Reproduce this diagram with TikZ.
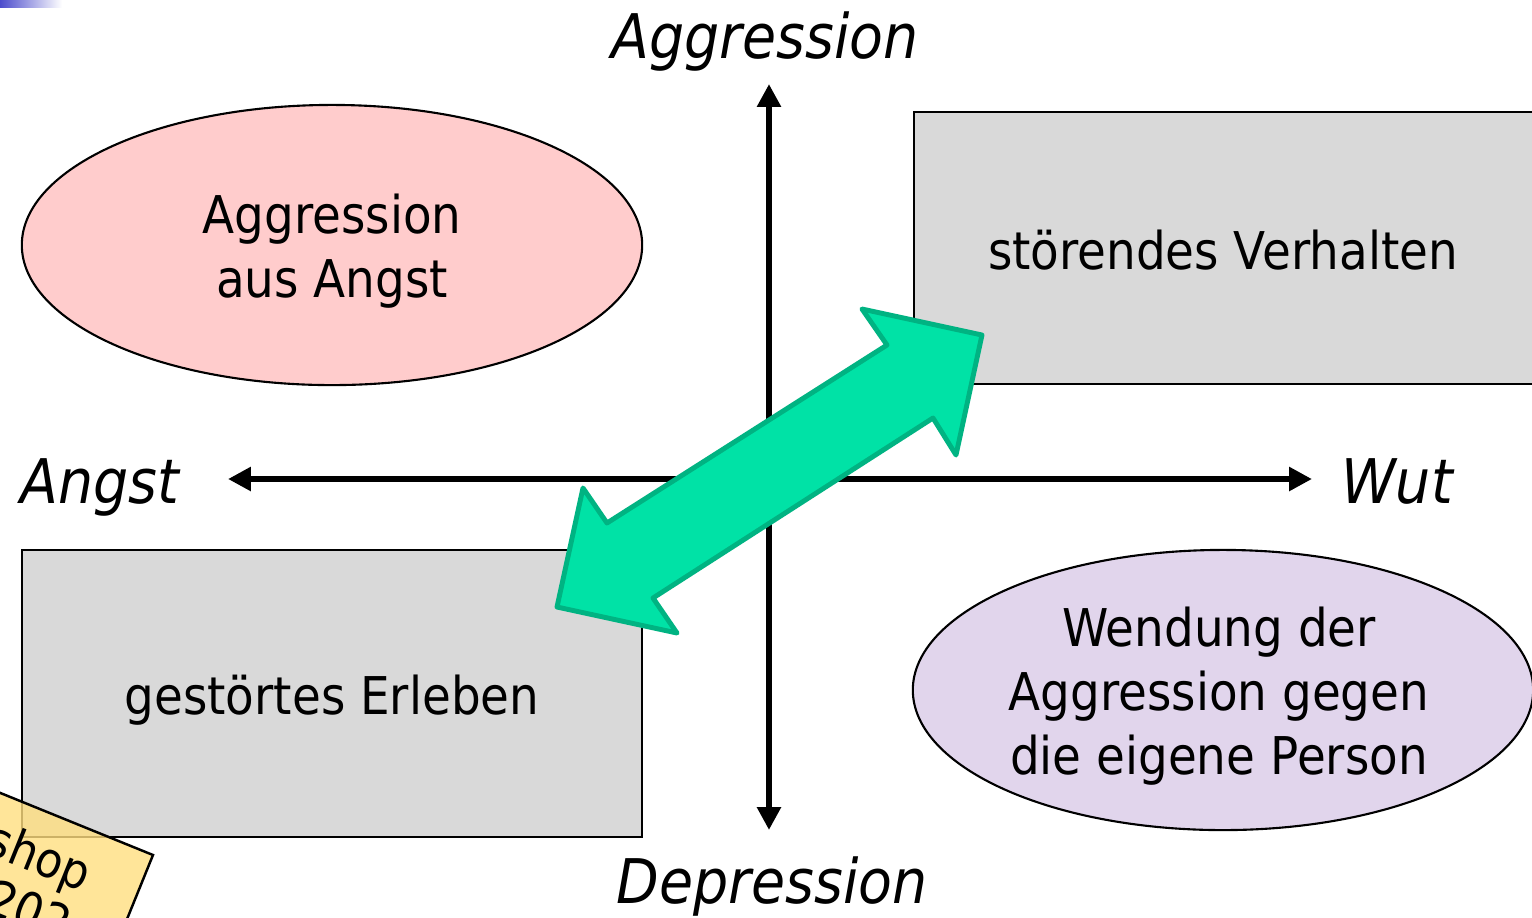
\documentclass[tikz,border=0pt]{standalone}
\usepackage{fontspec}
\setmainfont{DejaVu Sans}[FakeStretch=0.9]
\usetikzlibrary{shapes.geometric,arrows.meta}

\definecolor{angstrosa}{RGB}{255,204,204}
\definecolor{boxgrau}{RGB}{217,217,217}
\definecolor{wendunglila}{RGB}{225,213,236}
\definecolor{pfeilgruen}{RGB}{0,226,166}
\definecolor{pfeilrand}{RGB}{0,179,130}
\definecolor{notizgelb}{RGB}{255,222,128}
\definecolor{balkenblau}{RGB}{76,76,204}

\begin{document}
\begin{tikzpicture}[x=0.01cm, y=-0.01cm, line width=0.6pt,
  every node/.style={font=\fontsize{14.8}{18.2}\selectfont, align=center, inner sep=0pt},
  feld/.style={draw=black, fill=boxgrau, minimum width=6.2cm, minimum height=2.8cm},
  oval/.style={draw=black, ellipse, minimum width=6.2cm, minimum height=2.8cm},
  achse/.style={line width=1.7pt,
    {Triangle[length=6.5pt,width=6.5pt]}-{Triangle[length=6.5pt,width=6.5pt]}},
  pol/.style={font=\itshape\fontsize{17.5}{21}\selectfont}]
  % frame of the slide (pixel coordinates, y downwards)
  \clip (0,0) rectangle (1532,917);
  % small colour bar in the corner
  \shade[left color=balkenblau, right color=white] (0,0) rectangle (62,7);
  % the four fields
  \node[oval, fill=angstrosa] (angstfeld) at (332,245) {};
  \node[feld, minimum width=6.26cm, minimum height=2.72cm] (stoerfeld) at (1227,248) {};
  \node[feld, minimum height=2.87cm] (erlebfeld) at (332,693.5) {};
  \node[oval, fill=wendunglila] (wendfeld) at (1223,690) {};
  % their texts, set a little below the centre
  \node (angsttext) at ([yshift=-0.06cm]angstfeld.center) {Aggression\\aus Angst};
  \node (stoertext) at ([xshift=-0.04cm, yshift=-0.02cm]stoerfeld.center) {störendes Verhalten};
  \node (erlebtext) at ([yshift=-0.07cm]erlebfeld.center) {gestörtes Erleben};
  \node (wendtext) at ([xshift=-0.04cm, yshift=-0.06cm]wendfeld.center)
    {Wendung der\\Aggression gegen\\die eigene Person};
  % axes
  \coordinate (oben) at (769,84);
  \coordinate (unten) at (769,830);
  \coordinate (links) at (228,479);
  \coordinate (rechts) at (1312,479);
  \draw[achse] (unten) -- (oben);
  \draw[achse] (links) -- (rechts);
  % pole labels
  \node[pol, anchor=base] (aggr) at (765,58) {Aggression};
  \node[pol, anchor=base] (depr) at (772,903) {Depression};
  \node[pol, anchor=base] (angst) at (100,503) {Angst};
  \node[pol, anchor=base] (wut) at (1397,503) {Wut};
  % green double arrow between the two grey fields
  \draw[draw=pfeilrand, fill=pfeilgruen, line width=1.4pt, line join=round]
    (982,335) -- (956,455) -- (933,418) -- (653,598) -- (677,633)
    -- (557,607) -- (583,488) -- (607,523) -- (887,345) -- (862,309) -- cycle;
  % sticky note in the corner (cut off by the frame)
  \fill[notizgelb, opacity=0.8] (153,855) -- (-125,742) -- (-200,927) -- (78,1040) -- cycle;
  \draw[line width=0.7pt] (-125,742) -- (153,855) -- (78,1040);
  \node[rotate=-22, anchor=north east, align=right, font=\fontsize{14}{15.5}\selectfont]
    (notiz) at (98,857) {shop\\202};
\end{tikzpicture}
\end{document}
